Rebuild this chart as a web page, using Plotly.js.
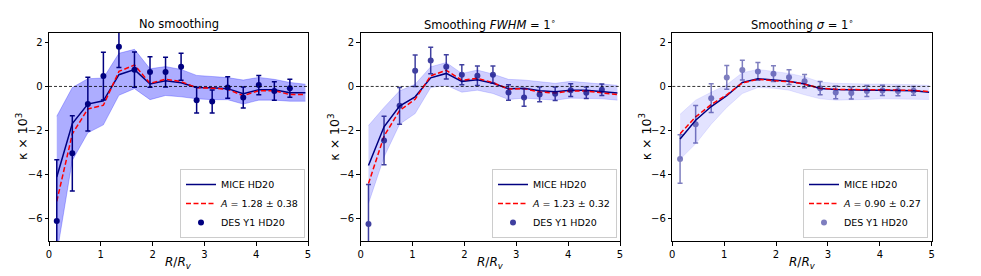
<!DOCTYPE html>
<html>
<head>
<meta charset="utf-8">
<script src="https://cdn.plot.ly/plotly-3.0.1.min.js"></script>
<style>html,body{margin:0;padding:0;background:#fff;}#chart{width:981px;height:276px;}</style>
</head>
<body>
<div id="chart"></div>
<script>
// ---- data ----
const desX  = [0.15,0.45,0.75,1.05,1.35,1.65,1.95,2.25,2.55,2.85,3.15,3.45,3.75,4.05,4.35,4.65];
const miceX = [0.15,0.45,0.75,1.05,1.35,1.65,1.95,2.25,2.55,2.85,3.15,3.45,3.75,4.05,4.35,4.65,4.95];

const panelTitles = ["No smoothing", "Smoothing <i>FWHM</i> = 1<sup>∘</sup>", "Smoothing <i>σ</i> = 1<sup>∘</sup>"];
const ampLabels = ["<i>A</i> = 1.28 ± 0.38", "<i>A</i> = 1.23 ± 0.32", "<i>A</i> = 0.90 ± 0.27"];
const yTitle = "κ × 10<sup>3</sup>";
const xTitle = "<i>R</i>/<i>R</i><sub><i>v</i></sub>";

// panel 1: no smoothing
const des1    = [-6.09,-3.03,-0.80,0.47,1.80,0.76,0.65,0.65,0.89,-0.62,-0.68,-0.05,-0.50,0.06,-0.21,-0.08];
const des1Err = [2.77,1.70,1.22,1.08,0.94,0.80,0.69,0.67,0.61,0.58,0.52,0.49,0.48,0.44,0.42,0.41];
const mice1   = [-4.10,-1.68,-0.80,-0.65,0.53,0.76,0.11,0.26,0.17,-0.05,-0.06,-0.10,-0.33,-0.15,-0.15,-0.29,-0.29];
const amp1    = [-5.20,-2.15,-1.02,-0.85,0.68,0.97,0.14,0.33,0.22,-0.06,-0.08,-0.13,-0.42,-0.19,-0.19,-0.37,-0.37];
const band1Hi = [-1.35,-0.05,0.35,0.38,1.50,1.68,0.80,0.90,0.77,0.50,0.45,0.40,0.29,0.41,0.32,0.18,0.10];
const band1Lo = [-7.60,-3.35,-2.10,-1.74,-0.40,-0.10,-0.60,-0.41,-0.47,-0.56,-0.60,-0.60,-0.80,-0.62,-0.62,-0.67,-0.67];

// panel 2: FWHM = 1 deg
const des2    = [-6.23,-2.45,-0.88,0.71,1.17,0.89,0.53,0.48,0.53,-0.27,-0.50,-0.36,-0.33,-0.17,-0.29,-0.15];
const des2Err = [1.79,1.10,0.83,0.71,0.60,0.55,0.45,0.44,0.39,0.35,0.40,0.33,0.31,0.29,0.26,0.26];
const mice2   = [-3.58,-1.83,-0.89,-0.47,0.39,0.59,0.23,0.30,0.14,-0.10,-0.08,-0.20,-0.24,-0.17,-0.17,-0.23,-0.30];
const amp2    = [-4.40,-2.25,-1.09,-0.58,0.48,0.73,0.28,0.37,0.17,-0.12,-0.10,-0.25,-0.30,-0.21,-0.21,-0.28,-0.37];
const band2Hi = [-1.77,-0.95,-0.20,0.10,0.89,1.08,0.59,0.74,0.56,0.32,0.29,0.20,0.14,0.23,0.17,0.14,0.05];
const band2Lo = [-5.30,-3.20,-1.71,-1.23,-0.05,0.05,-0.26,-0.17,-0.32,-0.59,-0.53,-0.59,-0.62,-0.53,-0.53,-0.56,-0.62];

// panel 3: sigma = 1 deg
const des3    = [-3.29,-1.71,-0.53,0.41,0.74,0.68,0.58,0.42,0.24,-0.08,-0.27,-0.30,-0.21,-0.18,-0.21,-0.20];
const des3Err = [1.10,0.85,0.65,0.54,0.45,0.40,0.36,0.33,0.30,0.30,0.29,0.27,0.25,0.23,0.21,0.20];
const mice3   = [-2.38,-1.53,-0.91,-0.42,0.18,0.35,0.29,0.24,0.11,-0.09,-0.14,-0.17,-0.17,-0.17,-0.17,-0.20,-0.26];
const amp3    = [-2.14,-1.38,-0.82,-0.38,0.16,0.32,0.26,0.22,0.10,-0.08,-0.13,-0.15,-0.15,-0.15,-0.15,-0.18,-0.23];
const band3Hi = [-1.26,-0.62,-0.26,0.08,0.62,0.77,0.68,0.59,0.44,0.20,0.14,0.11,0.11,0.11,0.11,0.08,0.05];
const band3Lo = [-3.30,-2.60,-1.71,-0.95,-0.32,-0.05,-0.08,-0.17,-0.38,-0.56,-0.62,-0.62,-0.59,-0.56,-0.56,-0.56,-0.59];

const xTicks = [0,1,2,3,4,5];
const yTicks = [-6,-4,-2,0,2];

// ---- styling ----
const NAVY = "#000080";
const FONT = "DejaVu Sans, sans-serif";
const W = 981, H = 276;
const xDomains = [[49/W, 308/W], [360.7/W, 620/W], [672.3/W, 931.7/W]];
const yDomain = [(H-241)/H, (H-33)/H];
const bandAlpha = [0.32, 0.19, 0.11];
const desOpacity = [1, 0.75, 0.5];
const legendRight = [305/W, 617/W, 928/W];

const panels = [
  {des: des1, err: des1Err, mice: mice1, amp: amp1, hi: band1Hi, lo: band1Lo},
  {des: des2, err: des2Err, mice: mice2, amp: amp2, hi: band2Hi, lo: band2Lo},
  {des: des3, err: des3Err, mice: mice3, amp: amp3, hi: band3Hi, lo: band3Lo},
];

const traces = [];
const layout = {
  width: W, height: H,
  margin: {l: 0, r: 0, t: 0, b: 0},
  paper_bgcolor: "#fff", plot_bgcolor: "#fff",
  font: {family: FONT, size: 10, color: "#000"},
  showlegend: true,
  annotations: [], shapes: []
};

panels.forEach((p, i) => {
  const n = i + 1;
  const xa = n === 1 ? "x" : "x" + n;
  const ya = n === 1 ? "y" : "y" + n;
  const leg = n === 1 ? "legend" : "legend" + n;
  const band = "rgba(0,0,255," + bandAlpha[i] + ")";

  traces.push({x: miceX, y: p.lo, xaxis: xa, yaxis: ya, mode: "lines", legend: leg,
    line: {color: band, width: 0.8}, showlegend: false, hoverinfo: "skip"});
  traces.push({x: miceX, y: p.hi, xaxis: xa, yaxis: ya, mode: "lines", fill: "tonexty", legend: leg,
    fillcolor: band, line: {color: band, width: 0.8}, showlegend: false, hoverinfo: "skip"});
  traces.push({x: miceX, y: p.mice, xaxis: xa, yaxis: ya, mode: "lines", name: "MICE HD20",
    legend: leg, line: {color: NAVY, width: 1.5}});
  traces.push({x: miceX, y: p.amp, xaxis: xa, yaxis: ya, mode: "lines", name: ampLabels[i],
    legend: leg, line: {color: "red", width: 1.5, dash: "5px,2.5px"}});
  traces.push({x: desX, y: p.des, xaxis: xa, yaxis: ya, mode: "markers", name: "DES Y1 HD20",
    legend: leg, opacity: desOpacity[i],
    marker: {color: NAVY, size: 6},
    error_y: {type: "data", array: p.err, visible: true, color: NAVY, thickness: 1.5, width: 2.5}});

  const axBase = {
    showgrid: false, zeroline: false, showline: true, mirror: true,
    linecolor: "#000", linewidth: 1, ticks: "outside", ticklen: 3.5, tickwidth: 1,
    tickcolor: "#000", tickfont: {family: FONT, size: 10, color: "#000"}
  };
  layout["xaxis" + (n === 1 ? "" : n)] = Object.assign({}, axBase, {
    domain: xDomains[i], range: [0, 5], anchor: ya, tickvals: xTicks
  });
  layout["yaxis" + (n === 1 ? "" : n)] = Object.assign({}, axBase, {
    domain: yDomain, range: [-7, 2.42], anchor: xa, tickvals: yTicks
  });
  layout[leg] = {
    x: legendRight[i], xanchor: "right", xref: "paper",
    y: (H-238)/H, yanchor: "bottom", yref: "paper",
    bgcolor: "rgba(255,255,255,0.85)", bordercolor: "#cccccc", borderwidth: 1,
    font: {family: FONT, size: 9.5, color: "#000"},
    itemwidth: 30, tracegroupgap: 0, traceorder: "normal"
  };
  const xMid = (xDomains[i][0] + xDomains[i][1]) / 2;
  layout.annotations.push({
    text: panelTitles[i], xref: "paper", yref: "paper",
    x: xMid, y: (H - 24) / H,
    xanchor: "center", yanchor: "middle", showarrow: false,
    font: {family: FONT, size: 11.5, color: "#000"}
  });
  layout.annotations.push({
    text: xTitle, xref: "paper", yref: "paper",
    x: xMid, y: (H - 263) / H,
    xanchor: "center", yanchor: "middle", showarrow: false,
    font: {family: FONT, size: 12, color: "#000"}
  });
  layout.annotations.push({
    text: yTitle, xref: "paper", yref: "paper", textangle: -90,
    x: xDomains[i][0] - 27 / W, y: (yDomain[0] + yDomain[1]) / 2,
    xanchor: "center", yanchor: "middle", showarrow: false,
    font: {family: FONT, size: 12.5, color: "#000"}
  });
  layout.shapes.push({
    type: "line", xref: xa + " domain", yref: ya, x0: 0, x1: 1, y0: 0, y1: 0,
    line: {color: "#000", width: 0.8, dash: "3px,2px"}
  });
});

Plotly.newPlot("chart", traces, layout, {staticPlot: true, displayModeBar: false});
</script>
</body>
</html>
